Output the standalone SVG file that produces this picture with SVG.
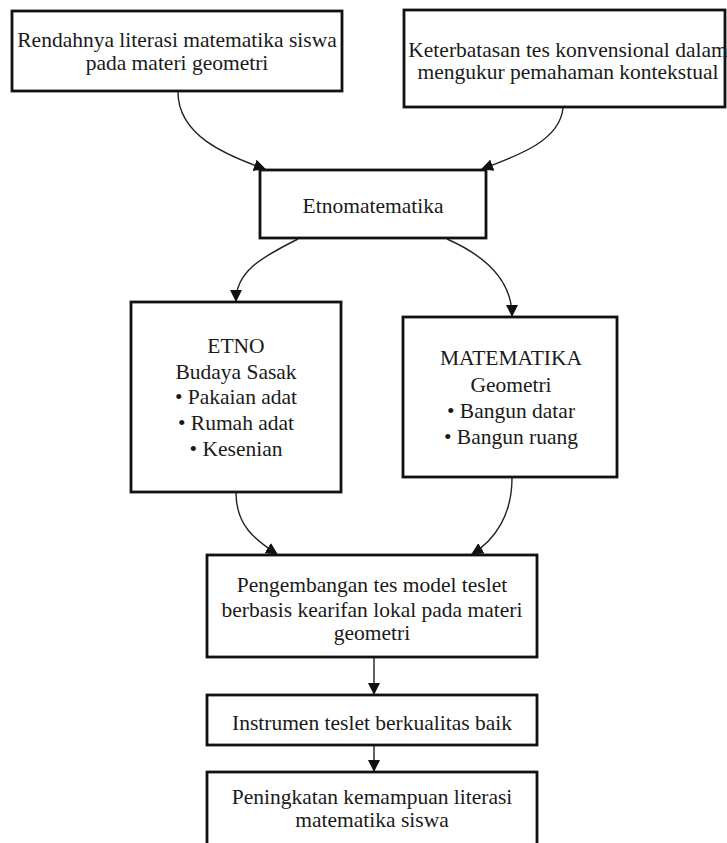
<svg xmlns="http://www.w3.org/2000/svg" width="727" height="843" viewBox="0 0 727 843">
<style>
.box{fill:#fff;stroke:#111;stroke-width:2.8}
.t{font-family:"Liberation Serif","Times New Roman",serif;font-size:21.5px;fill:#1a1a1a;text-anchor:middle}
.c{fill:none;stroke:#222;stroke-width:1.4}
</style>
<defs>
<marker id="ah" markerUnits="userSpaceOnUse" markerWidth="12" markerHeight="12" viewBox="0 0 12 12" refX="11" refY="6" orient="auto">
<path d="M0,0 L12,6 L0,12 Z" fill="#111"/>
</marker>
</defs>
<rect width="727" height="843" fill="#fff"/>
<g id="connectors">
<path class="c" d="M178,92 C178,135 225,155 265,169" marker-end="url(#ah)"/>
<path class="c" d="M563,108 C560,140 520,155 482,169" marker-end="url(#ah)"/>
<path class="c" d="M298,239 C260,258 236,272 236,301" marker-end="url(#ah)"/>
<path class="c" d="M447,239 C490,258 512,283 512,316" marker-end="url(#ah)"/>
<path class="c" d="M236,493 C236,525 255,540 277,554" marker-end="url(#ah)"/>
<path class="c" d="M512,478 C512,515 495,540 472,554" marker-end="url(#ah)"/>
<path class="c" d="M374,658 L374,694" marker-end="url(#ah)"/>
<path class="c" d="M374,746 L374,771" marker-end="url(#ah)"/>
</g>
<g id="n1">
<rect class="box" x="12" y="11" width="330" height="80"/>
<text class="t" x="177" y="47">Rendahnya literasi matematika siswa</text>
<text class="t" x="177" y="70">pada materi geometri</text>
</g>
<g id="n2">
<rect class="box" x="404" y="10" width="321" height="97"/>
<text class="t" x="568" y="57">Keterbatasan tes konvensional dalam</text>
<text class="t" x="568" y="79">mengukur pemahaman kontekstual</text>
</g>
<g id="n3">
<rect class="box" x="260" y="170" width="226" height="68"/>
<text class="t" x="373" y="213">Etnomatematika</text>
</g>
<g id="n4">
<rect class="box" x="131" y="302" width="210" height="190"/>
<text class="t" x="236" y="353">ETNO</text>
<text class="t" x="236" y="379">Budaya Sasak</text>
<text class="t" x="236" y="404">• Pakaian adat</text>
<text class="t" x="236" y="430">• Rumah adat</text>
<text class="t" x="236" y="456">• Kesenian</text>
</g>
<g id="n5">
<rect class="box" x="403" y="317" width="214" height="160"/>
<text class="t" x="511" y="365">MATEMATIKA</text>
<text class="t" x="511" y="392">Geometri</text>
<text class="t" x="511" y="418">• Bangun datar</text>
<text class="t" x="511" y="444">• Bangun ruang</text>
</g>
<g id="n6">
<rect class="box" x="207" y="555" width="330" height="102"/>
<text class="t" x="372" y="592">Pengembangan tes model teslet</text>
<text class="t" x="372" y="617">berbasis kearifan lokal pada materi</text>
<text class="t" x="372" y="640">geometri</text>
</g>
<g id="n7">
<rect class="box" x="207" y="695" width="330" height="50"/>
<text class="t" x="372" y="730">Instrumen teslet berkualitas baik</text>
</g>
<g id="n8">
<rect class="box" x="207" y="772" width="330" height="90"/>
<text class="t" x="372" y="804">Peningkatan kemampuan literasi</text>
<text class="t" x="372" y="827">matematika siswa</text>
</g>
</svg>
